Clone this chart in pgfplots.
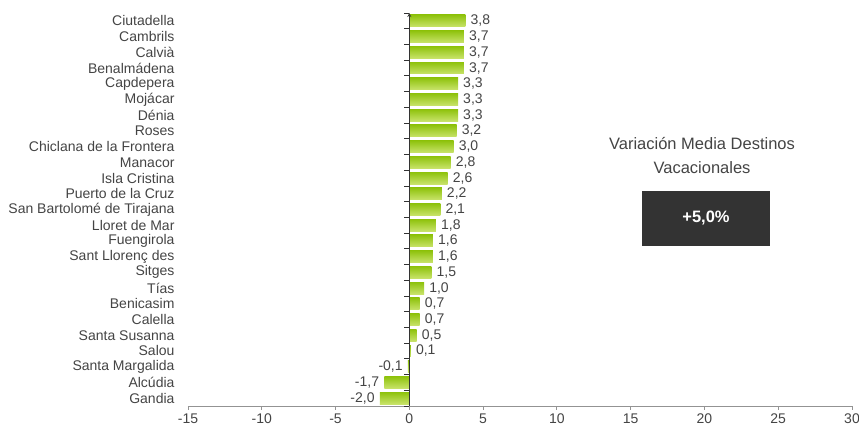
\documentclass[border=0pt]{standalone}
\usepackage{pgfplots}
\pgfplotsset{compat=1.18}
\usepackage{fontspec}
\setmainfont{Liberation Sans}
\definecolor{gtop}{HTML}{8EC20C}
\definecolor{gbot}{HTML}{C8E36A}
\definecolor{txt}{HTML}{444444}
\definecolor{boxc}{HTML}{333333}
\pgfplotsset{gb/.style={xbar, bar shift=0pt, bar width=0.76, draw=none, top color=gtop, bottom color=gbot}}
\begin{document}
\begin{tikzpicture}
\begin{axis}[
  at={(0pt,0pt)}, anchor=south west,
  scale only axis, width=664pt, height=393pt,
  xmin=-15, xmax=30, ymin=-0.5, ymax=24.5,
  axis x line*=bottom, axis y line*=left,
  y axis line style={draw=none},
  x axis line style={draw=gray!85, line width=0.8pt},
  xtick={-15,-10,...,30},
  x tick style={draw=gray!85, line width=0.8pt},
  y tick style={draw=none},
  tick align=outside, major tick length=4pt,
  ytick={0,...,24},
  yticklabels={Gandia,Alcúdia,Santa Margalida,Salou,Santa Susanna,Calella,Benicasim,Tías,Sitges,Sant Llorenç des,Fuengirola,Lloret de Mar,San Bartolomé de Tirajana,Puerto de la Cruz,Isla Cristina,Manacor,Chiclana de la Frontera,Roses,Dénia,Mojácar,Capdepera,Benalmádena,Calvià,Cambrils,Ciutadella},
  yticklabel style={font=\fontsize{14}{15}\selectfont, text=txt, xshift=-6pt},
  xticklabel style={font=\fontsize{14}{15}\selectfont, text=txt},
  /pgf/number format/assume math mode=true,
  xbar, bar shift=0pt,
  point meta=x,
  nodes near coords,
  nodes near coords align=horizontal,
  nodes near coords style={font=\fontsize{14}{15}\selectfont, text=txt, inner sep=5pt,
    /pgf/number format/.cd, use comma, fixed, fixed zerofill, precision=1, assume math mode=true},
  clip=false,
]
\addplot[gb] coordinates {(-2.0,0)};
\addplot[gb] coordinates {(-1.7,1)};
\addplot[gb] coordinates {(-0.1,2)};
\addplot[gb] coordinates {(0.1,3)};
\addplot[gb] coordinates {(0.5,4)};
\addplot[gb] coordinates {(0.7,5)};
\addplot[gb] coordinates {(0.7,6)};
\addplot[gb] coordinates {(1.0,7)};
\addplot[gb] coordinates {(1.5,8)};
\addplot[gb] coordinates {(1.6,9)};
\addplot[gb] coordinates {(1.6,10)};
\addplot[gb] coordinates {(1.8,11)};
\addplot[gb] coordinates {(2.1,12)};
\addplot[gb] coordinates {(2.2,13)};
\addplot[gb] coordinates {(2.6,14)};
\addplot[gb] coordinates {(2.8,15)};
\addplot[gb] coordinates {(3.0,16)};
\addplot[gb] coordinates {(3.2,17)};
\addplot[gb] coordinates {(3.3,18)};
\addplot[gb] coordinates {(3.3,19)};
\addplot[gb] coordinates {(3.3,20)};
\addplot[gb] coordinates {(3.7,21)};
\addplot[gb] coordinates {(3.7,22)};
\addplot[gb] coordinates {(3.7,23)};
\addplot[gb] coordinates {(3.8,24)};
\end{axis}
\begin{axis}[
  at={(0pt,0pt)}, anchor=south west,
  scale only axis, width=664pt, height=393pt,
  xmin=-15, xmax=30, ymin=-0.5, ymax=24.5,
  axis x line=none, axis y line=center,
  y axis line style={draw=black!80, line width=0.8pt},
  xtick=\empty,
  ytick={-0.5,0.5,...,24.5}, yticklabels={},
  y tick style={draw=black!80, line width=0.8pt},
  tick align=outside, major tick length=5pt,
]
\end{axis}
\node[font=\fontsize{16.5}{18}\selectfont, text=txt] at (514pt,262pt) {Variación Media Destinos};
\node[font=\fontsize{16.5}{18}\selectfont, text=txt] at (514pt,238pt) {Vacacionales};
\node[fill=boxc, minimum width=128pt, minimum height=55pt, text=white, font=\fontsize{16.5}{18}\selectfont\bfseries] at (518pt,187.5pt) {+5,0\%};
\pgfresetboundingbox
\path[use as bounding box] (-188pt,-32pt) rectangle (671pt,406pt);
\end{tikzpicture}
\end{document}
